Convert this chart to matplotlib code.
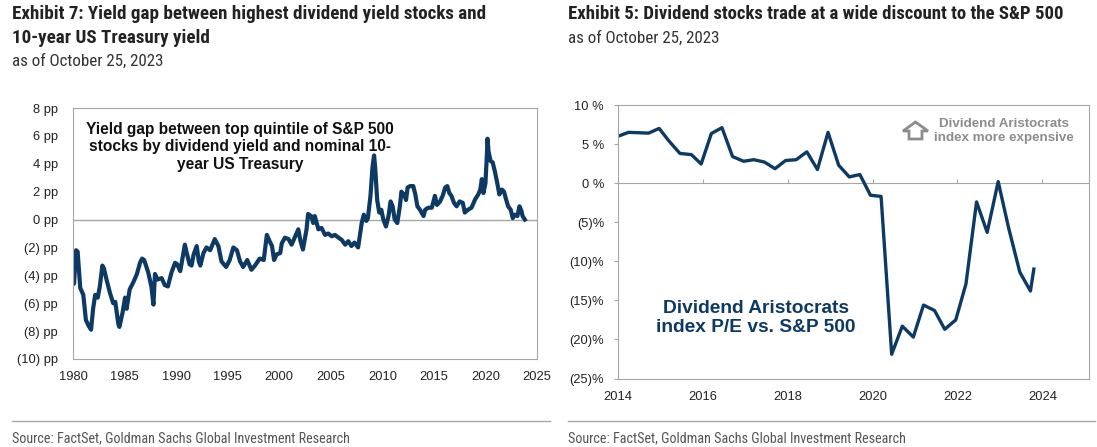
import matplotlib
matplotlib.use("Agg")
import matplotlib.pyplot as plt
from matplotlib import font_manager as fm
from matplotlib.patches import Polygon

# ---- data: yield gap (pp), top quintile S&P 500 div yield minus 10y UST
gap_years = [1980.0, 1980.1, 1980.3, 1980.45, 1980.7, 1981.0, 1981.25, 1981.5, 1981.75, 1981.95,
             1982.15, 1982.4, 1982.6, 1982.85, 1983.0, 1983.25, 1983.6, 1983.9, 1984.1, 1984.4,
             1984.5, 1984.8, 1985.05, 1985.2, 1985.5, 1985.85, 1986.2, 1986.5, 1986.7, 1986.9,
             1987.3, 1987.6, 1987.8, 1987.95, 1988.2, 1988.6, 1988.9, 1989.2, 1989.55, 1989.9,
             1990.1, 1990.4, 1990.85, 1991.0, 1991.3, 1991.5, 1991.7, 1992.0, 1992.2, 1992.35,
             1992.65, 1992.95, 1993.3, 1993.75, 1994.1, 1994.4, 1994.85, 1995.2, 1995.55, 1995.9,
             1996.2, 1996.5, 1996.9, 1997.3, 1997.65, 1998.1, 1998.5, 1998.8, 1999.1, 1999.3,
             1999.5, 1999.75, 2000.1, 2000.25, 2000.55, 2000.9, 2001.2, 2001.5, 2001.85, 2002.05,
             2002.3, 2002.65, 2002.8, 2003.1, 2003.3, 2003.45, 2003.8, 2004.1, 2004.45, 2004.75,
             2005.1, 2005.4, 2005.75, 2006.05, 2006.4, 2006.7, 2007.0, 2007.3, 2007.65, 2008.0,
             2008.2, 2008.45, 2008.6, 2008.85, 2009.05, 2009.2, 2009.3, 2009.5, 2009.7, 2009.9,
             2010.1, 2010.35, 2010.6, 2010.8, 2011.0, 2011.2, 2011.45, 2011.7, 2011.85, 2012.1,
             2012.3, 2012.45, 2012.7, 2013.0, 2013.2, 2013.4, 2013.65, 2014.0, 2014.15, 2014.45,
             2014.8, 2015.1, 2015.3, 2015.6, 2015.85, 2016.1, 2016.3, 2016.5, 2016.7, 2016.95,
             2017.2, 2017.5, 2017.8, 2018.0, 2018.3, 2018.65, 2019.0, 2019.3, 2019.5, 2019.65,
             2019.8, 2020.0, 2020.13, 2020.2, 2020.3, 2020.5, 2020.7, 2020.9, 2021.15, 2021.35,
             2021.6, 2021.8, 2022.0, 2022.2, 2022.45, 2022.65, 2022.85, 2023.1, 2023.3, 2023.5,
             2023.6, 2023.82]
gap_pp = [-3.3, -4.6, -2.2, -2.3, -4.9, -5.4, -7.2, -7.6, -7.9, -6.4,
          -5.4, -5.6, -4.8, -3.3, -3.5, -4.3, -5.3, -6.0, -5.9, -7.5,
          -7.7, -6.7, -5.6, -6.4, -5.0, -4.5, -3.9, -3.1, -2.8, -2.9,
          -3.8, -4.8, -6.1, -3.9, -4.3, -4.2, -4.7, -4.8, -3.8, -3.1,
          -3.2, -3.7, -1.8, -2.3, -3.2, -3.3, -2.5, -1.9, -3.0, -3.3,
          -2.4, -2.0, -2.2, -1.4, -1.9, -3.0, -3.4, -2.9, -2.0, -2.2,
          -3.0, -3.4, -2.9, -3.6, -3.3, -2.8, -2.9, -1.1, -1.6, -1.9,
          -2.9, -2.5, -2.4, -1.7, -1.3, -1.4, -1.8, -1.3, -0.7, -1.5,
          -2.15, -0.7, 0.4, 0.25, -0.25, 0.25, -0.7, -0.6, -1.1, -1.0,
          -1.2, -1.1, -1.3, -1.45, -1.8, -1.55, -1.9, -1.65, -2.0, -0.25,
          0.35, -0.1, 0.1, 1.7, 3.8, 4.6, 3.8, 1.4, 0.5, 0.7,
          0.0, -0.5, 0.25, 1.3, 0.95, 0.0, -0.25, 0.95, 2.0, 1.8,
          1.4, 2.3, 2.4, 2.4, 1.8, 0.95, 0.7, 0.25, 0.7, 0.85,
          0.85, 1.7, 1.05, 1.3, 1.7, 2.3, 2.4, 1.9, 1.7, 1.2,
          0.95, 1.3, 1.2, 0.5, 0.7, 0.85, 1.45, 1.8, 2.15, 2.9,
          1.9, 2.6, 4.5, 5.8, 4.9, 4.2, 4.1, 3.5, 2.6, 1.8,
          2.15, 2.0, 1.45, 0.95, 0.7, 0.1, 0.35, 0.25, 0.95, 0.6,
          0.25, 0.0]

# ---- data: Dividend Aristocrats P/E premium vs S&P 500 (%)
pe_years = [2014.0, 2014.25, 2014.5, 2014.72, 2014.97, 2015.2, 2015.46, 2015.73, 2015.96, 2016.2,
            2016.45, 2016.7, 2016.96, 2017.2, 2017.45, 2017.7, 2017.95, 2018.2, 2018.45, 2018.7,
            2018.95, 2019.2, 2019.45, 2019.7, 2019.95, 2020.2, 2020.45, 2020.7, 2020.96, 2021.2,
            2021.46, 2021.7, 2021.96, 2022.2, 2022.45, 2022.7, 2022.96, 2023.2, 2023.47, 2023.72,
            2023.8]
pe_rel = [6.0, 6.5, 6.45, 6.4, 7.0, 5.4, 3.8, 3.65, 2.45, 6.35,
          7.1, 3.4, 2.8, 3.0, 2.7, 1.85, 2.9, 3.0, 4.0, 1.75,
          6.5, 2.3, 0.8, 1.1, -1.55, -1.7, -21.9, -18.3, -19.7, -15.6,
          -16.3, -18.7, -17.5, -12.9, -2.4, -6.3, 0.2, -5.6, -11.4, -13.8,
          -11.0]

left_yticks = [8, 6, 4, 2, 0, -2, -4, -6, -8, -10]
left_xticks = [1980, 1985, 1990, 1995, 2000, 2005, 2010, 2015, 2020, 2025]
right_yticks = [10, 5, 0, -5, -10, -15, -20, -25]
right_xticks = [2014, 2016, 2018, 2020, 2022, 2024]

navy = '#0c3a64'
frame = '#a6a6a6'
txt = '#222222'
plt.rcParams['font.family'] = ['Liberation Sans', 'DejaVu Sans']

# condensed face for headings if one is installed
installed = {f.name for f in fm.fontManager.ttflist}
narrow = 'Liberation Sans'
for cand in ['Liberation Sans Narrow', 'Roboto Condensed', 'DejaVu Sans Condensed',
             'Open Sans Condensed', 'Noto Sans Condensed']:
    if cand in installed:
        narrow = cand
        break


def pp_label(v):
    return f"{v} pp" if v >= 0 else f"({-v}) pp"


def pct_label(v):
    return f"{v} %" if v >= 0 else f"({-v})%"


fig = plt.figure(figsize=(10.97, 4.47), dpi=100)
renderer = fig.canvas.get_renderer()


def fit_text(x_px, y_px, s, width_px, size, **kw):
    # scale the heading so it spans the same width as in the original
    t = fig.text(x_px / 1097, 1 - y_px / 447, s, va='baseline', family=narrow,
                 fontsize=size, **kw)
    if width_px:
        w = t.get_window_extent(renderer).width
        t.set_fontsize(min(size * width_px / w, size * 1.08))
    return t


# ---------------- left panel
ax1 = fig.add_axes([73 / 1097, 1 - 359 / 447, 464 / 1097, 251 / 447])
ax1.plot(gap_years, gap_pp, color=navy, lw=3.0, solid_joinstyle='round')
ax1.axhline(0, color=frame, lw=1, zorder=0)
ax1.set_xlim(1980, 2025)
ax1.set_ylim(-10, 8)
ax1.set_yticks(left_yticks)
ax1.set_yticklabels([pp_label(v) for v in left_yticks])
ax1.set_xticks(left_xticks)
ax1.tick_params(axis='both', length=0, labelsize=9.3, colors=txt)
ax1.tick_params(axis='y', pad=11)
ax1.tick_params(axis='x', pad=9)
for s in ax1.spines.values():
    s.set_color(frame)
ax1.text(0.36, 0.945, "Yield gap between top quintile of S&P 500\nstocks by dividend yield and nominal 10-\nyear US Treasury",
         transform=ax1.transAxes, ha='center', va='top', fontsize=11.2, fontweight='bold',
         color='#111111', linespacing=1.2)

# ---------------- right panel
ax2 = fig.add_axes([618 / 1097, 1 - 378.5 / 447, 471 / 1097, 273.5 / 447])
ax2.plot(pe_years, pe_rel, color=navy, lw=2.4, solid_joinstyle='round')
ax2.set_xlim(2014, 2025.1)
ax2.set_ylim(-25, 10)
ax2.set_yticks(right_yticks)
ax2.set_yticklabels([pct_label(v) for v in right_yticks])
ax2.set_xticks(right_xticks)
ax2.tick_params(axis='x', length=0, labelsize=9.3, colors=txt, pad=9)
ax2.tick_params(axis='y', length=3, direction='out', color=frame, labelsize=9.3,
                labelcolor=txt, pad=7)
for s in ax2.spines.values():
    s.set_color(frame)
# zero line with tick marks
zero_loc = (0 - (-25)) / (10 - (-25))
sec = ax2.secondary_xaxis(zero_loc)
sec.set_xticks(right_xticks[1:])
sec.tick_params(axis='x', length=3, direction='out', color=frame, labelbottom=False,
                labeltop=False)
sec.spines['bottom'].set_color(frame)
sec.spines['top'].set_color(frame)

ax2.text(0.292, 0.221, "Dividend Aristocrats\nindex P/E vs. S&P 500", transform=ax2.transAxes,
         ha='center', va='center', fontsize=13.8, fontweight='bold', color=navy,
         linespacing=1.15)
ax2.text(0.82, 0.905, "Dividend Aristocrats\nindex more expensive", transform=ax2.transAxes,
         ha='center', va='center', fontsize=9.6, fontweight='bold', color='#8c8c8c',
         linespacing=1.2)
arrow = Polygon([(0.6316, 0.9378), (0.6582, 0.905), (0.6454, 0.905), (0.6454, 0.8757),
                 (0.6178, 0.8757), (0.6178, 0.905), (0.6051, 0.905)], closed=True,
                transform=ax2.transAxes, facecolor='white', edgecolor='#8c8c8c', lw=2)
ax2.add_patch(arrow)

# ---------------- titles, notes
t1 = fit_text(12, 19, "Exhibit 7: Yield gap between highest dividend yield stocks and", 473, 12.8,
              fontweight='bold', color=txt)
t2 = fit_text(12, 43, "10-year US Treasury yield", None, 12.8, fontweight='bold', color=txt)
t2.set_fontsize(t1.get_fontsize())
fit_text(12, 66, "as of October 25, 2023", 152, 11.7, color='#333333')
fit_text(568, 19, "Exhibit 5: Dividend stocks trade at a wide discount to the S&P 500", 494, 12.8,
         fontweight='bold', color=txt)
fit_text(568, 43, "as of October 25, 2023", 152, 11.7, color='#333333')

for x0, x1 in [(12, 550), (568, 1095)]:
    fig.add_artist(plt.Line2D([x0 / 1097, x1 / 1097], [1 - 421 / 447] * 2, color=frame, lw=1))
    fit_text(x0, 442, "Source: FactSet, Goldman Sachs Global Investment Research", 338, 11,
             color='#555555')

fig.savefig("out.png", dpi=100)
